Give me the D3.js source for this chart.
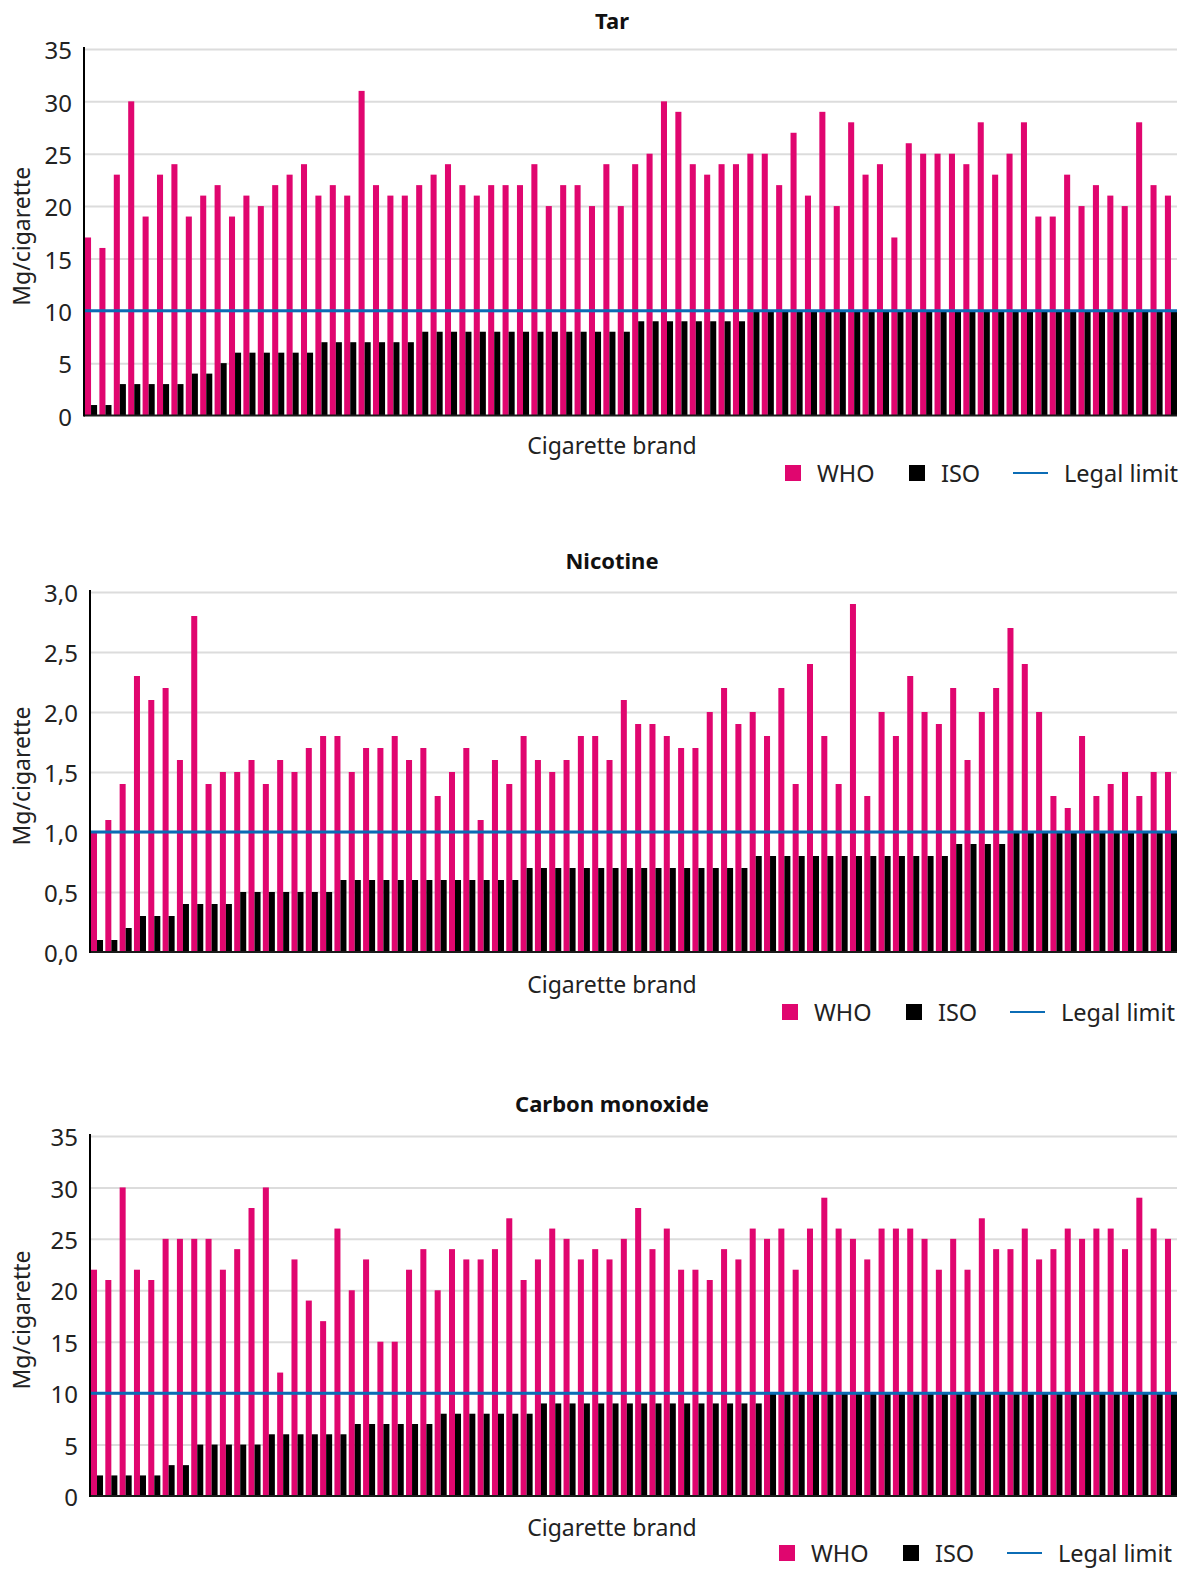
<!DOCTYPE html>
<html>
<head>
<meta charset="utf-8">
<script src="https://cdn.jsdelivr.net/npm/d3@7"></script>
<style>
  body { margin: 0; background: #fff; }
  text { font-family: "Noto Sans", "Open Sans", sans-serif; }
</style>
</head>
<body>
<div id="chart"></div>
<script>
// brands are unnamed, just numbered
var brands = d3.range(1, 77);

var tarWHO = [17,16,23,30,19,23,24,19,21,22, 19,21,20,22,23,24,21,22,21,31,
              22,21,21,22,23,24,22,21,22,22, 22,24,20,22,22,20,24,20,24,25,
              30,29,24,23,24,24,25,25,22,27, 21,29,20,28,23,24,17,26,25,25,
              25,24,28,23,25,28,19,19,23,20, 22,21,20,28,22,21];
var tarISO = [1,1,3,3,3,3,3,4,4,5, 6,6,6,6,6,6,7,7,7,7,
              7,7,7,8,8,8,8,8,8,8, 8,8,8,8,8,8,8,8,9,9,
              9,9,9,9,9,9,10,10,10,10, 10,10,10,10,10,10,10,10,10,10,
              10,10,10,10,10,10,10,10,10,10, 10,10,10,10,10,10];

var nicWHO = [1.0,1.1,1.4,2.3,2.1,2.2,1.6,2.8,1.4,1.5, 1.5,1.6,1.4,1.6,1.5,1.7,1.8,1.8,1.5,1.7,
              1.7,1.8,1.6,1.7,1.3,1.5,1.7,1.1,1.6,1.4, 1.8,1.6,1.5,1.6,1.8,1.8,1.6,2.1,1.9,1.9,
              1.8,1.7,1.7,2.0,2.2,1.9,2.0,1.8,2.2,1.4, 2.4,1.8,1.4,2.9,1.3,2.0,1.8,2.3,2.0,1.9,
              2.2,1.6,2.0,2.2,2.7,2.4,2.0,1.3,1.2,1.8, 1.3,1.4,1.5,1.3,1.5,1.5];
var nicISO = [0.1,0.1,0.2,0.3,0.3,0.3,0.4,0.4,0.4,0.4, 0.5,0.5,0.5,0.5,0.5,0.5,0.5,0.6,0.6,0.6,
              0.6,0.6,0.6,0.6,0.6,0.6,0.6,0.6,0.6,0.6, 0.7,0.7,0.7,0.7,0.7,0.7,0.7,0.7,0.7,0.7,
              0.7,0.7,0.7,0.7,0.7,0.7,0.8,0.8,0.8,0.8, 0.8,0.8,0.8,0.8,0.8,0.8,0.8,0.8,0.8,0.8,
              0.9,0.9,0.9,0.9,1.0,1.0,1.0,1.0,1.0,1.0, 1.0,1.0,1.0,1.0,1.0,1.0];

var coWHO = [22,21,30,22,21,25,25,25,25,22, 24,28,30,12,23,19,17,26,20,23,
             15,15,22,24,20,24,23,23,24,27, 21,23,26,25,23,24,23,25,28,24,
             26,22,22,21,24,23,26,25,26,22, 26,29,26,25,23,26,26,26,25,22,
             25,22,27,24,24,26,23,24,26,25, 26,26,24,29,26,25];
var coISO = [2,2,2,2,2,3,3,5,5,5, 5,5,6,6,6,6,6,6,7,7,
             7,7,7,7,8,8,8,8,8,8, 8,9,9,9,9,9,9,9,9,9,
             9,9,9,9,9,9,9,10,10,10, 10,10,10,10,10,10,10,10,10,10,
             10,10,10,10,10,10,10,10,10,10, 10,10,10,10,10,10];

var tarTicks = [0,5,10,15,20,25,30,35];
var nicTicks = [0,0.5,1.0,1.5,2.0,2.5,3.0];
var coTicks  = [0,5,10,15,20,25,30,35];

var legalLimits = [10, 1.0, 10];
var titles      = ["Tar", "Nicotine", "Carbon monoxide"];
var seriesNames = ["WHO", "ISO", "Legal limit"];

var pink  = "#e0066f";
var black = "#000000";
var blue  = "#0b6cb5";

var svg = d3.select("#chart")
            .append("svg")
            .attr("width", 1184)
            .attr("height", 1571);

svg.append("rect")
   .attr("width", "100%")
   .attr("height", "100%")
   .style("fill", "white");

var rightEdge = 1177;

function drawPanel(p) {
  var g = svg.append("g");

  var y = d3.scaleLinear()
            .domain([0, p.ticks[p.ticks.length - 1]])
            .range([p.bottom, p.top]);

  var x0 = d3.scaleBand()
             .domain(brands)
             .range([p.axisX + 1, rightEdge])
             .paddingInner(0.16)
             .paddingOuter(0);

  var x1 = d3.scaleBand()
             .domain(["WHO", "ISO"])
             .range([0, x0.bandwidth()]);

  // gridlines
  g.append("g")
   .attr("transform", "translate(" + p.axisX + ",0)")
   .call(d3.axisLeft(y).tickValues(p.ticks.slice(1)).tickSize(-(rightEdge - p.axisX)).tickFormat(""))
   .call(function(s) {
     s.select(".domain").remove();
     s.selectAll("line").attr("stroke", "#dcdcdc").attr("stroke-width", 2);
   });

  // bars
  var groups = g.selectAll(".brand")
                .data(brands)
                .enter()
                .append("g")
                .attr("transform", function(d) { return "translate(" + x0(d) + ",0)"; });

  groups.append("rect")
        .attr("x", x1("WHO"))
        .attr("width", x1.bandwidth())
        .attr("y", function(d, i) { return y(p.who[i]); })
        .attr("height", function(d, i) { return y(0) - y(p.who[i]); })
        .style("fill", pink);

  groups.append("rect")
        .attr("x", x1("ISO"))
        .attr("width", x1.bandwidth())
        .attr("y", function(d, i) { return y(p.iso[i]); })
        .attr("height", function(d, i) { return y(0) - y(p.iso[i]); })
        .style("fill", black);

  // legal limit
  g.append("line")
   .attr("x1", p.axisX)
   .attr("x2", rightEdge)
   .attr("y1", y(p.limit))
   .attr("y2", y(p.limit))
   .attr("stroke", blue)
   .attr("stroke-width", 3);

  // baseline and y axis
  g.append("line")
   .attr("x1", p.axisX).attr("x2", rightEdge)
   .attr("y1", y(0)).attr("y2", y(0))
   .attr("stroke", "#1a1a1a").attr("stroke-width", 2);

  g.append("line")
   .attr("x1", p.axisX).attr("x2", p.axisX)
   .attr("y1", y(p.ticks[p.ticks.length - 1]) - 2).attr("y2", y(0) + 1)
   .attr("stroke", "#000").attr("stroke-width", 2);

  // tick labels
  g.append("g")
   .attr("transform", "translate(" + p.axisX + ",2)")
   .call(d3.axisLeft(y).tickValues(p.ticks).tickSize(0).tickPadding(12).tickFormat(p.format))
   .call(function(s) {
     s.select(".domain").remove();
     s.selectAll("text")
      .attr("font-size", 24)
      .attr("font-family", "Noto Sans, sans-serif")
      .attr("fill", "#222");
   });

  // title
  g.append("text")
   .attr("x", 612)
   .attr("y", p.titleY)
   .attr("text-anchor", "middle")
   .attr("font-size", 22)
   .attr("font-weight", "bold")
   .attr("fill", "#111")
   .text(p.title);

  // axis titles
  g.append("text")
   .attr("transform", "translate(30," + ((p.top + p.bottom) / 2 + 4) + ") rotate(-90)")
   .attr("text-anchor", "middle")
   .attr("font-size", 23)
   .attr("fill", "#222")
   .text("Mg/cigarette");

  g.append("text")
   .attr("x", 612)
   .attr("y", p.xlabelY)
   .attr("text-anchor", "middle")
   .attr("font-size", 23)
   .attr("fill", "#222")
   .text("Cigarette brand");

  // legend
  var lg = g.append("g").attr("transform", "translate(" + p.legendX + "," + p.legendY + ")");
  lg.append("rect").attr("x", 0).attr("y", -17).attr("width", 16).attr("height", 16).style("fill", pink);
  lg.append("text").attr("x", 32).attr("y", 0).attr("font-size", 23.5).attr("fill", "#222").text(seriesNames[0]);
  lg.append("rect").attr("x", 124).attr("y", -17).attr("width", 16).attr("height", 16).style("fill", black);
  lg.append("text").attr("x", 156).attr("y", 0).attr("font-size", 23.5).attr("fill", "#222").text(seriesNames[1]);
  lg.append("line").attr("x1", 228).attr("x2", 263).attr("y1", -9).attr("y2", -9)
    .attr("stroke", blue).attr("stroke-width", 2);
  lg.append("text").attr("x", 279).attr("y", 0).attr("font-size", 23.5).attr("fill", "#222").text(seriesNames[2]);
}

var commaFmt = function(d) { return d3.format(".1f")(d).replace(".", ","); };

drawPanel({ title: titles[0], who: tarWHO, iso: tarISO, ticks: tarTicks, limit: legalLimits[0],
            format: d3.format("d"), axisX: 84, top: 49, bottom: 415.5,
            titleY: 29, xlabelY: 454, legendX: 785, legendY: 482 });

drawPanel({ title: titles[1], who: nicWHO, iso: nicISO, ticks: nicTicks, limit: legalLimits[1],
            format: commaFmt, axisX: 90, top: 592, bottom: 952,
            titleY: 569, xlabelY: 993, legendX: 782, legendY: 1021 });

drawPanel({ title: titles[2], who: coWHO, iso: coISO, ticks: coTicks, limit: legalLimits[2],
            format: d3.format("d"), axisX: 90, top: 1136, bottom: 1496,
            titleY: 1112, xlabelY: 1536, legendX: 779, legendY: 1562 });
</script>
</body>
</html>
